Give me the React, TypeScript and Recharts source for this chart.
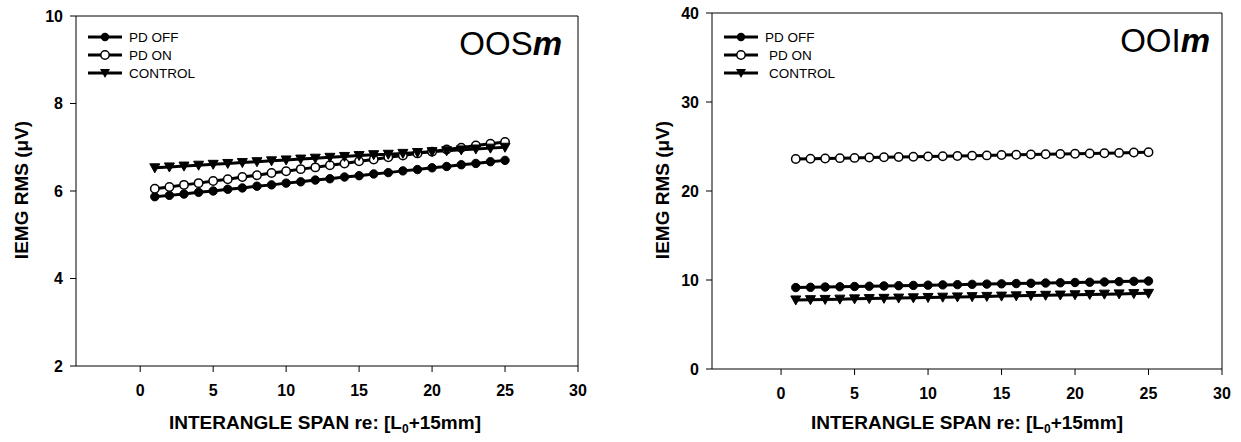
import React from 'react';
import { LineChart, Line, XAxis, YAxis, ReferenceLine } from 'recharts';

const spanX = [1, 2, 3, 4, 5, 6, 7, 8, 9, 10, 11, 12, 13, 14, 15, 16, 17, 18, 19, 20, 21, 22, 23, 24, 25];
const xTicks = [0, 5, 10, 15, 20, 25, 30];
const seriesNames = ['PD OFF', 'PD ON', 'CONTROL'];

const oosOff = [5.87, 5.9, 5.93, 5.97, 6.0, 6.04, 6.07, 6.11, 6.14, 6.18, 6.21, 6.25, 6.28, 6.32, 6.35, 6.39, 6.42, 6.46, 6.49, 6.53, 6.56, 6.6, 6.63, 6.67, 6.7];
const oosOn = [6.05, 6.09, 6.14, 6.18, 6.23, 6.27, 6.32, 6.36, 6.41, 6.45, 6.5, 6.54, 6.59, 6.63, 6.68, 6.72, 6.77, 6.81, 6.86, 6.9, 6.95, 6.99, 7.04, 7.08, 7.12];
const oosControl = [6.53, 6.55, 6.57, 6.59, 6.61, 6.63, 6.65, 6.67, 6.69, 6.71, 6.73, 6.75, 6.77, 6.79, 6.81, 6.83, 6.84, 6.86, 6.88, 6.9, 6.92, 6.94, 6.96, 6.98, 7.0];
const oosTicks = [2, 4, 6, 8, 10];

const ooiOff = [9.15, 9.18, 9.21, 9.24, 9.27, 9.3, 9.33, 9.36, 9.39, 9.42, 9.45, 9.48, 9.51, 9.54, 9.57, 9.6, 9.63, 9.66, 9.69, 9.72, 9.75, 9.78, 9.82, 9.85, 9.88];
const ooiOn = [23.6, 23.63, 23.66, 23.69, 23.72, 23.76, 23.79, 23.82, 23.85, 23.88, 23.91, 23.94, 23.97, 24.0, 24.04, 24.07, 24.1, 24.13, 24.16, 24.19, 24.22, 24.25, 24.28, 24.32, 24.35];
const ooiControl = [7.76, 7.79, 7.82, 7.85, 7.88, 7.91, 7.94, 7.97, 8.0, 8.04, 8.07, 8.1, 8.13, 8.16, 8.19, 8.22, 8.25, 8.28, 8.31, 8.34, 8.38, 8.41, 8.44, 8.47, 8.5];
const ooiTicks = [0, 10, 20, 30, 40];

const FONT = '"Liberation Sans", Arial, sans-serif';
const X_MAX = 30;

const buildRows = (off: number[], on: number[], ctrl: number[]) =>
  spanX.map((x, i) => ({ x, off: off[i], on: on[i], ctrl: ctrl[i] }));

const FilledDot = (p: any) =>
  p.cx == null ? null : <circle key={p.key ?? p.index} cx={p.cx} cy={p.cy} r={4.2} fill="#000" stroke="#000" strokeWidth={1} />;
const OpenDot = (p: any) =>
  p.cx == null ? null : <circle key={p.key ?? p.index} cx={p.cx} cy={p.cy} r={4.2} fill="#fff" stroke="#000" strokeWidth={1.5} />;
const TriDot = (p: any) =>
  p.cx == null ? null : (
    <path key={p.key ?? p.index} d={`M${p.cx - 5},${p.cy - 4}L${p.cx + 5},${p.cy - 4}L${p.cx},${p.cy + 5}Z`} fill="#000" stroke="#000" strokeWidth={1} />
  );

const markerFor = (name: string, cx: number, cy: number) => {
  if (name === 'PD OFF') return <circle cx={cx} cy={cy} r={4.2} fill="#000" />;
  if (name === 'PD ON') return <circle cx={cx} cy={cy} r={4.2} fill="#fff" stroke="#000" strokeWidth={1.5} />;
  return <path d={`M${cx - 5},${cy - 4}L${cx + 5},${cy - 4}L${cx},${cy + 5}Z`} fill="#000" />;
};

// legend drawn as an overlay so it doesn't eat into the plot area
const LegendBox = ({ left, top, lineW, textGap, indentOn }: any) => (
  <div style={{ position: 'absolute', left, top, fontFamily: FONT, fontSize: 13.5, color: '#000' }}>
    {seriesNames.map((name) => (
      <div key={name} style={{ display: 'flex', alignItems: 'center', height: 18 }}>
        <svg width={lineW} height={12} style={{ marginRight: textGap + (name !== 'PD OFF' ? indentOn : 0) }}>
          <line x1={0} y1={6} x2={lineW} y2={6} stroke="#000" strokeWidth={3} />
          {markerFor(name, lineW / 2, 6)}
        </svg>
        <span>{name}</span>
      </div>
    ))}
  </div>
);

interface PanelProps {
  data: any[];
  xMin: number;
  yDomain: [number, number];
  yTicks: number[];
  width: number;
  margin: { top: number; right: number; left: number; bottom: number };
  yAxisWidth: number;
  xAxisHeight: number;
}

function Panel(props: PanelProps) {
  const { data, xMin, yDomain, yTicks, width, margin, yAxisWidth, xAxisHeight } = props;
  const tickStyle = { fontFamily: FONT, fontSize: 16, fontWeight: 700, fill: '#000' };
  return (
    <LineChart width={width} height={442} data={data} margin={margin}>
      <XAxis
        dataKey="x"
        type="number"
        domain={[xMin, X_MAX]}
        ticks={xTicks}
        allowDataOverflow
        height={xAxisHeight}
        stroke="#000"
        tickSize={6}
        tickMargin={13}
        tick={tickStyle}
      />
      <YAxis
        type="number"
        domain={yDomain}
        ticks={yTicks}
        allowDataOverflow
        width={yAxisWidth}
        stroke="#000"
        tickSize={6}
        tickMargin={7}
        tick={tickStyle}
      />
      {/* box frame: top and right edges */}
      <ReferenceLine y={yDomain[1]} stroke="#000" strokeWidth={1} />
      <ReferenceLine x={X_MAX} stroke="#000" strokeWidth={1} />
      <Line dataKey="off" name="PD OFF" stroke="#000" strokeWidth={3} dot={FilledDot} isAnimationActive={false} />
      <Line dataKey="on" name="PD ON" stroke="#000" strokeWidth={3} dot={OpenDot} isAnimationActive={false} />
      <Line dataKey="ctrl" name="CONTROL" stroke="#000" strokeWidth={3} dot={TriDot} isAnimationActive={false} />
    </LineChart>
  );
}

const abs = (s: React.CSSProperties): React.CSSProperties => ({ position: 'absolute', fontFamily: FONT, color: '#000', whiteSpace: 'nowrap', ...s });

export default function App() {
  const oosData = buildRows(oosOff, oosOn, oosControl);
  const ooiData = buildRows(ooiOff, ooiOn, ooiControl);
  const axisLabel: React.CSSProperties = { fontSize: 19, fontWeight: 700 };
  const titleStyle: React.CSSProperties = { fontSize: 33, lineHeight: '38px' };
  return (
    <div style={{ position: 'absolute', left: 0, top: 0, width: 1241, height: 442, background: '#fff' }}>
      <div style={abs({ left: 0, top: 0 })}>
        <Panel
          data={oosData}
          xMin={-4.4}
          yDomain={[2, 10]}
          yTicks={oosTicks}
          width={600}
          margin={{ top: 16, right: 22, left: 0, bottom: 0 }}
          yAxisWidth={76}
          xAxisHeight={76}
        />
      </div>
      <div style={abs({ left: 620, top: 0 })}>
        <Panel
          data={ooiData}
          xMin={-4.7}
          yDomain={[0, 40]}
          yTicks={ooiTicks}
          width={621}
          margin={{ top: 13, right: 19, left: 0, bottom: 0 }}
          yAxisWidth={92}
          xAxisHeight={73}
        />
      </div>

      <LegendBox left={88} top={28} lineW={34} textGap={7} indentOn={0} />
      <LegendBox left={724} top={28} lineW={34} textGap={7} indentOn={4} />

      <div style={abs({ right: 1241 - 562, top: 25, ...titleStyle })}>
        OOS<span style={{ fontStyle: 'italic', fontWeight: 700 }}>m</span>
      </div>
      <div style={abs({ right: 1241 - 1210, top: 22, ...titleStyle })}>
        OOI<span style={{ fontStyle: 'italic', fontWeight: 700 }}>m</span>
      </div>

      <div style={abs({ left: 22, top: 190, transform: 'translate(-50%, -50%) rotate(-90deg)', ...axisLabel })}>IEMG RMS (μV)</div>
      <div style={abs({ left: 663, top: 190, transform: 'translate(-50%, -50%) rotate(-90deg)', ...axisLabel })}>IEMG RMS (μV)</div>

      <div style={abs({ left: 325, top: 424, transform: 'translate(-50%, -50%)', ...axisLabel })}>
        INTERANGLE SPAN re: [L<sub style={{ fontSize: 12 }}>0</sub>+15mm]
      </div>
      <div style={abs({ left: 967, top: 424, transform: 'translate(-50%, -50%)', ...axisLabel })}>
        INTERANGLE SPAN re: [L<sub style={{ fontSize: 12 }}>0</sub>+15mm]
      </div>
    </div>
  );
}
